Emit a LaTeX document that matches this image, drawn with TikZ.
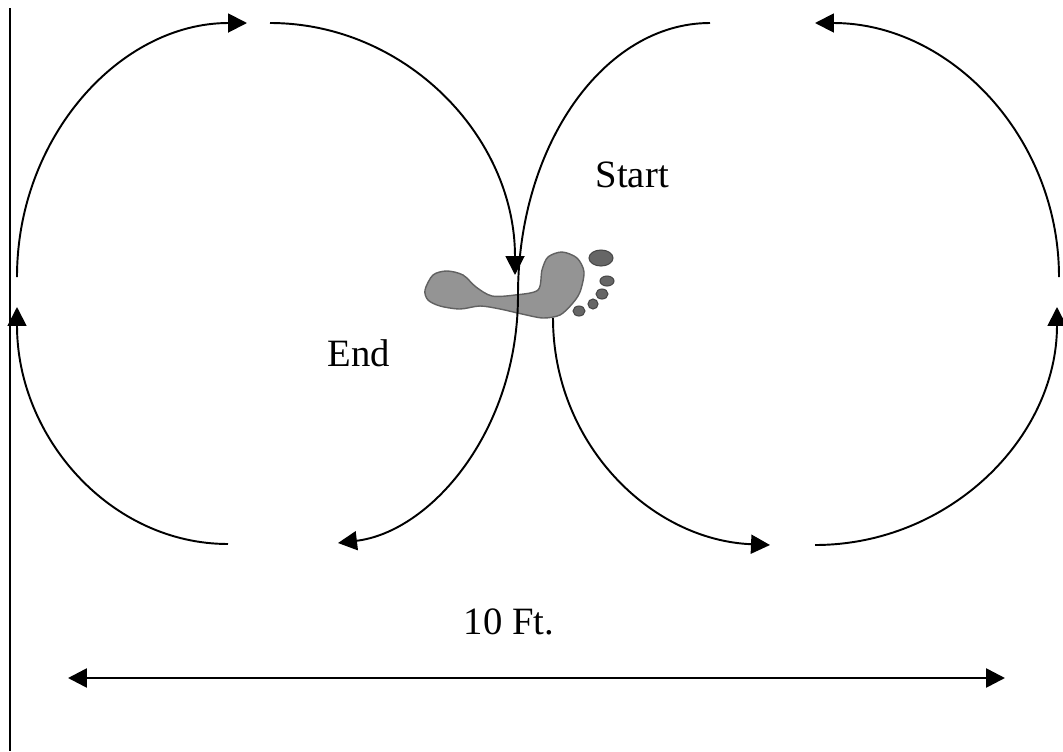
\documentclass[tikz,border=0pt]{standalone}
\usepackage{fontspec}
\setmainfont{Liberation Serif}
\usetikzlibrary{arrows.meta}

\begin{document}
\begin{tikzpicture}[x=0.01cm, y=-0.01cm,
    walk/.style={line width=0.55pt},
    tip/.style={-{Triangle[length=5.4pt, width=5.4pt]}},
    span/.style={line width=0.75pt, {Triangle[length=5.4pt, width=5.4pt]}-{Triangle[length=5.4pt, width=5.4pt]}},
    walktext/.style={font=\fontsize{11}{13}\selectfont, inner sep=0pt, anchor=base west},
    foot/.style={fill=black!42, draw=black!62, line width=0.4pt},
    toe/.style={fill=black!60, draw=black!72, line width=0.3pt}]
    \useasboundingbox (0, 0) rectangle (1063, 751);
    \draw[line width=0.6pt] (10, 8) -- (10, 751);
    \filldraw[foot] plot[smooth cycle] coordinates {(425,290) (433,275) (447,271) (463,275) (476,287) (492,296) (515,295) (538,290) (542,270) (548,257) (562,252) (577,258) (584,272) (580,292) (572,304) (560,315) (543,318) (522,314) (500,309) (480,306) (460,309) (440,306) (428,300)};
    \foreach \x/\y/\rx/\ry in {601/258/1.2/0.8, 607/281/0.7/0.5, 602/294/0.6/0.5, 593/304/0.5/0.5, 579/311/0.6/0.5} {
        \filldraw[toe] (\x, \y) ellipse [x radius=\rx mm, y radius=\ry mm];
    }
    \foreach \sx/\sy/\ux/\uy/\vx/\vy/\ex/\ey in {
            17/277/17/137/120/23/247/23,
            270/23/405/23/515/136/515/275,
            518/295/518/432/430/532/338/543,
            228/544/111/544/17/438/17/307,
            553/318/553/443/650/540/770/545,
            815/545/949/545/1057/438/1057/307,
            1059/277/1059/137/950/23/815/23} {
        \draw[walk, tip] (\sx, \sy) .. controls (\ux, \uy) and (\vx, \vy) .. (\ex, \ey);
    };
    \draw[walk] (518, 295) .. controls (518, 145) and (604, 23) .. (710, 23);
    \node[walktext] (start) at (595, 187) {Start};
    \node[walktext] (finish) at (327, 366) {End};
    \node[walktext] (feet) at (463, 634) {10 Ft.};
    \coordinate (west) at (68, 678);
    \coordinate (east) at (1005, 678);
    \draw[span] (west) -- (east);
\end{tikzpicture}
\end{document}
